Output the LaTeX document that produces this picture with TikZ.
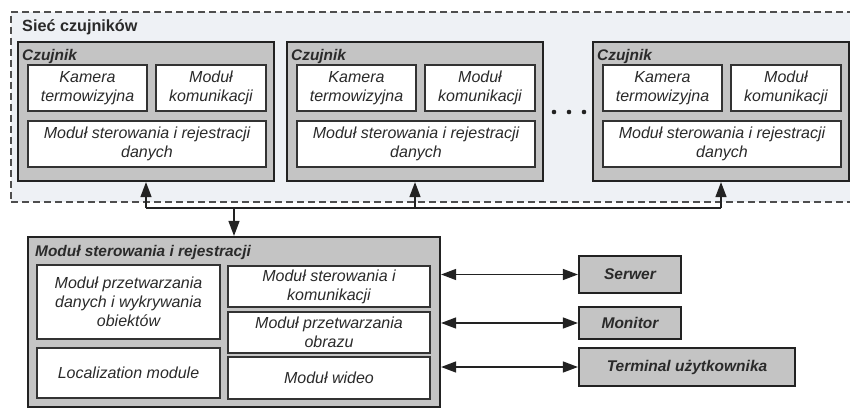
\documentclass[tikz,border=0pt]{standalone}
\usepackage{fontspec}
\setmainfont{Liberation Sans}
\usetikzlibrary{arrows.meta,calc}
\definecolor{bord}{HTML}{222222}
\definecolor{ibord}{HTML}{333333}
\definecolor{boxgray}{HTML}{C4C4C4}
\definecolor{netbg}{HTML}{EEF1F5}
\definecolor{txt}{HTML}{2A2A2A}
\newcommand\boxat[7]{\node[#1, minimum width={(#5)-(#3)}, minimum height={(#6)-(#4)}] (#2) at ({((#3)+(#5))/2},{((#4)+(#6))/2}) {#7};}
\begin{document}
\begin{tikzpicture}[x=1pt,y=-1pt,
  outerbox/.style={draw=bord,line width=2.2pt,fill=boxgray,inner sep=0pt},
  innerbox/.style={draw=ibord,line width=1.5pt,fill=white,inner sep=0pt,align=center,
    text=txt,font=\fontsize{16}{19}\selectfont\itshape},
  extbox/.style={draw=bord,line width=2.2pt,fill=boxgray,inner sep=0pt,text=txt,
    font=\fontsize{15.5}{18}\selectfont\bfseries\itshape},
  title/.style={anchor=west,inner sep=0pt,text=txt,font=\fontsize{15.4}{18}\selectfont\bfseries\itshape},
  conn/.style={draw=bord,line width=1.4pt},
  arr/.style={conn,-{Triangle[length=15pt,width=11pt]}},
  darr/.style={conn,{Triangle[length=15pt,width=11pt]}-{Triangle[length=15pt,width=11pt]}}]
\useasboundingbox (0,0) rectangle (850,409);
\clip (0,0) rectangle (850,409);
\fill[white] (0,0) rectangle (850,409);
% sensor network region
\node[draw=bord!80,dashed,dash pattern=on 7pt off 4pt,line width=1.6pt,fill=netbg,inner sep=0pt,
  minimum width=860, minimum height=190] (net) at (441,107) {};
\node[anchor=west,inner sep=0pt,text=txt,font=\fontsize{16.2}{19}\selectfont\bfseries] (nettitle) at (22,27) {Sieć czujników};
% sensors
\foreach \sx/\n in {18/1,287/2,593/3}{
  \boxat{outerbox}{S\n}{\sx}{42}{\sx+256}{181}{}
  \node[title] (St\n) at (\sx+4,57) {Czujnik};
  \boxat{innerbox}{K\n}{\sx+10}{65}{\sx+129}{111}{Kamera\\termowizyjna}
  \boxat{innerbox}{C\n}{\sx+138}{65}{\sx+248}{111}{Moduł\\komunikacji}
  \boxat{innerbox}{R\n}{\sx+10}{121}{\sx+248}{167}{Moduł sterowania i rejestracji\\danych}
}
% dots
\foreach \dx in {554,569,584}{\fill[bord] (\dx,112) circle (2.3pt);}
% main module
\boxat{outerbox}{M}{28}{237}{440}{407}{}
\node[title] (Mt) at (35,253) {Moduł sterowania i rejestracji};
\boxat{innerbox}{L1}{37}{265}{220}{339}{Moduł przetwarzania\\danych i wykrywania\\obiektów}
\boxat{innerbox}{L2}{37}{348}{220}{398}{Localization module}
\boxat{innerbox}{M1}{228}{266}{430}{307}{Moduł sterowania i\\komunikacji}
\boxat{innerbox}{M2}{228}{312}{430}{353}{Moduł przetwarzania\\obrazu}
\boxat{innerbox}{M3}{228}{357}{430}{399}{Moduł wideo}
% external
\boxat{extbox}{E1}{579}{256}{681}{293}{Serwer}
\boxat{extbox}{E2}{579}{307}{681}{339}{Monitor}
\boxat{extbox}{E3}{579}{348}{795}{386}{Terminal użytkownika}
% bus
\coordinate (bus) at (234,208);
\draw[conn] (S1.south |- bus) -- (S3.south |- bus);
\foreach \n in {1,2,3}{\draw[arr] (S\n.south |- bus) -- (S\n.south);}
\draw[arr] (bus) -- (M.north);
% external links
\draw[darr] (M.east |- E1.west) -- (E1.west);
\draw[darr] (M.east |- E2.west) -- (E2.west);
\draw[darr] (M.east |- E3.west) -- (E3.west);
\end{tikzpicture}
\end{document}
